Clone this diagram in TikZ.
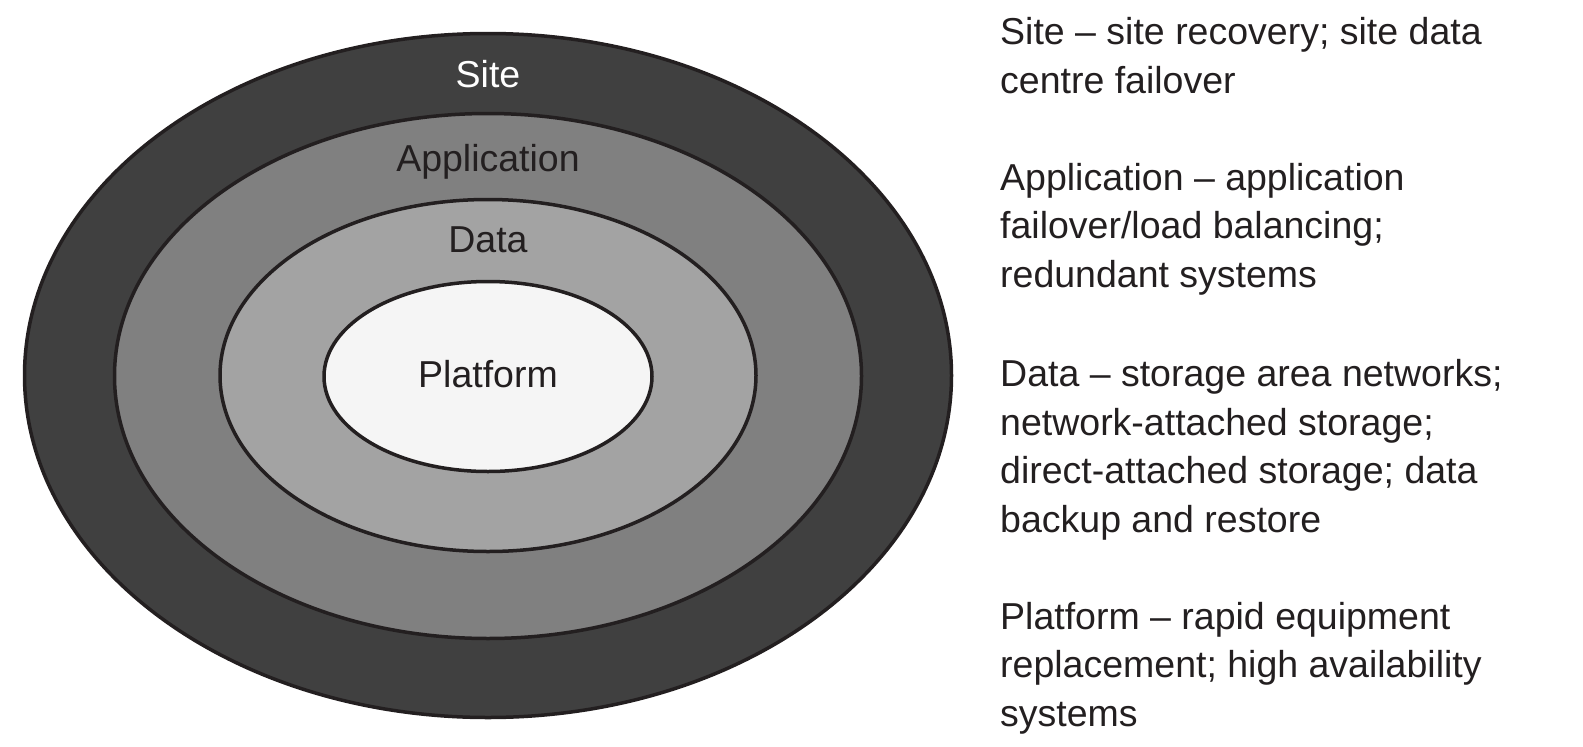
\documentclass[tikz,border=0pt]{standalone}
\usepackage{fontspec}
\setmainfont{Liberation Sans}
\usepackage{tikz}

\definecolor{siteGrey}{HTML}{404040}
\definecolor{appGrey}{HTML}{808080}
\definecolor{dataGrey}{HTML}{A3A3A3}
\definecolor{platGrey}{HTML}{F5F5F5}
\definecolor{ink}{HTML}{231F20}

\begin{document}
\begin{tikzpicture}[x=1pt,y=-1pt,
  layer/.style={draw=ink,line width=3.5pt},
  ringlabel/.style={anchor=base,inner sep=0pt,font=\fontsize{37.5}{45}\selectfont,text=ink},
  note/.style={anchor=base west,align=left,inner sep=0pt,font=\fontsize{37.5}{48.5}\selectfont,text=ink}]
  \useasboundingbox (0,0) rectangle (1583,747);
  % nested layers
  \filldraw[layer,fill=siteGrey] (488,375.5) ellipse [x radius=463.5pt,y radius=342pt];
  \filldraw[layer,fill=appGrey]  (488,376)   ellipse [x radius=373.5pt,y radius=262.5pt];
  \filldraw[layer,fill=dataGrey] (488,375.5) ellipse [x radius=268pt,y radius=176pt];
  \filldraw[layer,fill=platGrey] (488,376.5) ellipse [x radius=164pt,y radius=95pt];
  \node[ringlabel,text=white] (sitelbl) at (488,87)  {Site};
  \node[ringlabel] (applbl)  at (488,171) {Application};
  \node[ringlabel] (datalbl) at (488,252) {Data};
  \node[ringlabel] (platlbl) at (488,387) {Platform};
  % descriptions (anchored on the baseline of the last line)
  \node[note] (sitenote) at (1000,93)  {Site -- site recovery; site data\\centre failover};
  \node[note] (appnote)  at (1000,287) {Application -- application\\failover/load balancing;\\redundant systems};
  \node[note] (datanote) at (1000,532) {Data -- storage area networks;\\network-attached storage;\\direct-attached storage; data\\backup and restore};
  \node[note] (platnote) at (1000,726) {Platform -- rapid equipment\\replacement; high availability\\systems};
\end{tikzpicture}
\end{document}
